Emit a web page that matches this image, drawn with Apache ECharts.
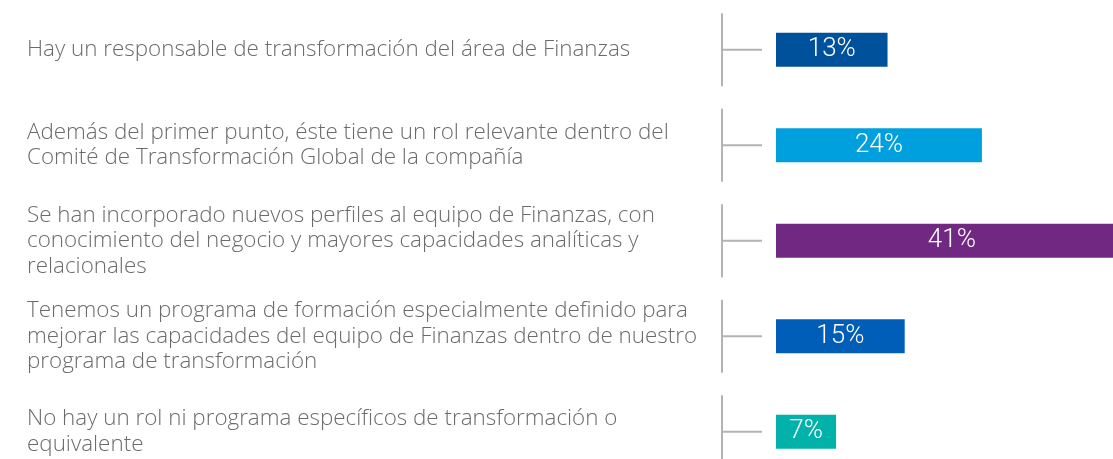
<!DOCTYPE html>
<html><head><meta charset="utf-8">
<script src="https://cdn.jsdelivr.net/npm/echarts@6/dist/echarts.min.js"></script>
<style>html,body{margin:0;padding:0;background:#fff}#c{width:1113px;height:459px}</style>
</head><body><div id="c"></div>
<script>
const categories = [
  'Hay un responsable de transformación del área de Finanzas',
  'Además del primer punto, éste tiene un rol relevante dentro del\nComité de Transformación Global de la compañía',
  'Se han incorporado nuevos perfiles al equipo de Finanzas, con\nconocimiento del negocio y mayores capacidades analíticas y\nrelacionales',
  'Tenemos un programa de formación especialmente definido para\nmejorar las capacidades del equipo de Finanzas dentro de nuestro\nprograma de transformación',
  'No hay un rol ni programa específicos de transformación o\nequivalente'
];
const values = [13, 24, 41, 15, 7];
const barColors = ['#00519B', '#009FDE', '#702882', '#005EB8', '#00B2A9'];

const chart = echarts.init(document.getElementById('c'));
chart.setOption({
  animation: false,
  grid: { left: 776, top: 2, height: 477.5, width: 429, outerBoundsMode: 'none', containLabel: false },
  xAxis: { type: 'value', min: 0, max: 50, show: false },
  yAxis: {
    type: 'category', data: categories, inverse: true,
    axisLine: { show: false }, axisTick: { show: false },
    axisLabel: {
      align: 'left', margin: 749, color: '#6b6b6b',
      fontFamily: 'Open Sans', fontWeight: 300, fontSize: 22.4, lineHeight: 25.4
    }
  },
  series: [
    {
      type: 'bar', barWidth: 34,
      data: values.map((v, i) => ({ value: v, itemStyle: { color: barColors[i] } })),
      label: {
        show: true, position: 'inside', color: '#fff',
        fontFamily: 'Roboto', fontWeight: 300, fontSize: 26,
        formatter: p => p.value + '%'
      }
    },
    {
      type: 'custom',
      data: categories.map((c, i) => [0, i]),
      silent: true,
      renderItem: (params, api) => {
        const y = api.coord([0, api.value(1)])[1];
        const x0 = params.coordSys.x - 54;
        const st = { stroke: '#b3b3b3', lineWidth: 2 };
        return { type: 'group', children: [
          { type: 'line', shape: { x1: x0, y1: y - 36.5, x2: x0, y2: y + 36.5 }, style: st },
          { type: 'line', shape: { x1: x0, y1: y, x2: x0 + 40, y2: y }, style: st }
        ]};
      }
    }
  ]
});
</script></body></html>
